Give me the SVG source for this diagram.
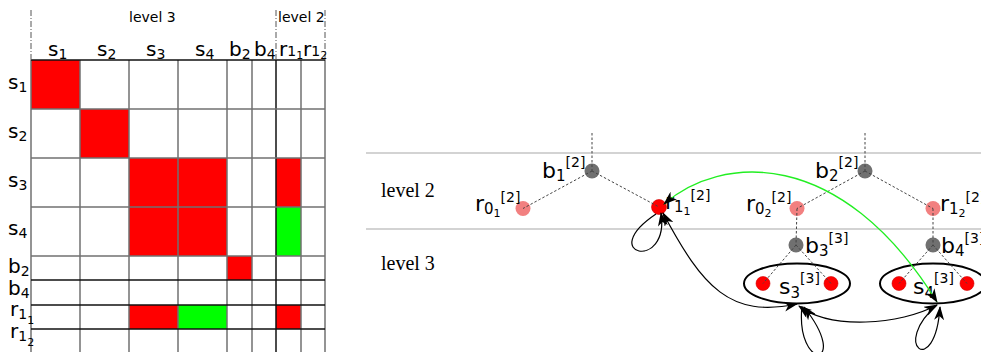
<svg xmlns="http://www.w3.org/2000/svg" width="981" height="352" viewBox="0 0 981 352">
<style>
text{font-family:"DejaVu Sans","Liberation Sans",sans-serif;fill:#000}
.ml{font-size:20px}
.ms{font-size:14px}
.mss{font-size:11px}
.hd{font-size:14px}
.gl{font-size:22px}
.gs{font-size:15px}
.gss{font-size:11px}
.gp{font-size:14px}
.lv{font-family:"Liberation Serif","DejaVu Serif",serif;font-size:20px}
.grid{stroke:#707070;stroke-width:1.5}
.gridk{stroke:#111;stroke-width:1.5}
.dd{stroke:#555;stroke-width:1;stroke-dasharray:6,2,1,2;fill:none}
.band{stroke:#c4c4c4;stroke-width:1.3}
.dash{stroke:#444;stroke-width:1;stroke-dasharray:2.5,2;fill:none}
.gray{fill:#707070}
.pink{fill:#f28080}
.red{fill:#ff0000;stroke:#d00000;stroke-width:0.6}
.ell{fill:none;stroke:#000;stroke-width:2}
.arc{fill:none;stroke:#000;stroke-width:1.2;marker-start:url(#ah);marker-end:url(#ah)}
.arc1{fill:none;stroke:#000;stroke-width:1.2;marker-end:url(#ah)}
.grn{fill:none;stroke:#22ee22;stroke-width:1.3;marker-start:url(#ah);marker-end:url(#ah)}
</style>
<defs>
<marker id="ah" markerUnits="userSpaceOnUse" markerWidth="14" markerHeight="10" viewBox="0 0 14 10" refX="13" refY="5" orient="auto-start-reverse">
<path d="M0,0 L14,5 L0,10 L4,5 z" fill="#000"/>
</marker>
</defs>
<rect width="981" height="352" fill="#fff"/>

<g id="matrix">
<g id="cells">
<rect x="31" y="60" width="49" height="49" fill="#ff0000"/>
<rect x="80" y="109" width="49" height="49" fill="#ff0000"/>
<rect x="129" y="158" width="98" height="98" fill="#ff0000"/>
<rect x="276" y="158" width="25" height="49" fill="#ff0000"/>
<rect x="276" y="207" width="25" height="49" fill="#00ff00"/>
<rect x="227" y="256" width="25" height="24" fill="#ff0000"/>
<rect x="129" y="305" width="49" height="24" fill="#ff0000"/>
<rect x="178" y="305" width="49" height="24" fill="#00ff00"/>
<rect x="276" y="305" width="25" height="24" fill="#ff0000"/>
</g>
<g id="gridlines">
<line class="grid" x1="31" y1="60" x2="31" y2="352"/>
<line class="grid" x1="80" y1="60" x2="80" y2="352"/>
<line class="grid" x1="129" y1="60" x2="129" y2="352"/>
<line class="grid" x1="178" y1="60" x2="178" y2="352"/>
<line class="grid" x1="227" y1="60" x2="227" y2="352"/>
<line class="grid" x1="252" y1="60" x2="252" y2="352"/>
<line class="gridk" x1="276" y1="60" x2="276" y2="352"/>
<line class="grid" x1="301" y1="60" x2="301" y2="352"/>
<line class="grid" x1="325" y1="60" x2="325" y2="352"/>
<line class="gridk" x1="31" y1="60" x2="325" y2="60"/>
<line class="grid" x1="31" y1="109" x2="325" y2="109"/>
<line class="grid" x1="31" y1="158" x2="325" y2="158"/>
<line class="grid" x1="31" y1="207" x2="325" y2="207"/>
<line class="grid" x1="31" y1="256" x2="325" y2="256"/>
<line class="gridk" x1="31" y1="280" x2="325" y2="280"/>
<line class="gridk" x1="31" y1="305" x2="325" y2="305"/>
<line class="gridk" x1="31" y1="329" x2="325" y2="329"/>
<line class="dd" x1="31" y1="10" x2="31" y2="60"/>
<line class="dd" x1="276" y1="10" x2="276" y2="60"/>
<line class="dd" x1="325" y1="10" x2="325" y2="60"/>
</g>
<g id="headers">
<text class="hd" x="129" y="22">level 3</text>
<text class="hd" x="278" y="22">level 2</text>
<text class="ml" x="48" y="56">s<tspan class="ms" dy="3">1</tspan></text>
<text class="ml" x="97" y="56">s<tspan class="ms" dy="3">2</tspan></text>
<text class="ml" x="146" y="56">s<tspan class="ms" dy="3">3</tspan></text>
<text class="ml" x="195" y="56">s<tspan class="ms" dy="3">4</tspan></text>
<text class="ml" x="229" y="56">b<tspan class="ms" dy="3">2</tspan></text>
<text class="ml" x="254" y="56">b<tspan class="ms" dy="3">4</tspan></text>
<text class="ml" x="279" y="56">r<tspan class="ms" dy="0">1</tspan><tspan class="mss" dy="3">1</tspan></text>
<text class="ml" x="303" y="56">r<tspan class="ms" dy="0">1</tspan><tspan class="mss" dy="3">2</tspan></text>
<text class="ml" x="8" y="89">s<tspan class="ms" dy="3">1</tspan></text>
<text class="ml" x="8" y="138">s<tspan class="ms" dy="3">2</tspan></text>
<text class="ml" x="8" y="187">s<tspan class="ms" dy="3">3</tspan></text>
<text class="ml" x="8" y="235">s<tspan class="ms" dy="3">4</tspan></text>
<text class="ml" x="8" y="273">b<tspan class="ms" dy="3">2</tspan></text>
<text class="ml" x="8" y="295">b<tspan class="ms" dy="3">4</tspan></text>
<text class="ml" x="10" y="316">r<tspan class="ms" dy="3">1</tspan><tspan class="mss" dy="5">1</tspan></text>
<text class="ml" x="10" y="338">r<tspan class="ms" dy="3">1</tspan><tspan class="mss" dy="5">2</tspan></text>
</g>
</g>

<g id="bands">
<line class="band" x1="366" y1="153" x2="981" y2="153"/>
<line class="band" x1="366" y1="229" x2="981" y2="229"/>
<text class="lv" x="381" y="197">level 2</text>
<text class="lv" x="381" y="270">level 3</text>
</g>

<g id="s3">
<ellipse class="ell" cx="797" cy="283.5" rx="53" ry="20"/>
<circle class="red" cx="763" cy="283.5" r="7"/>
<circle class="red" cx="831" cy="283.5" r="7"/>
<text class="gl" x="779" y="294">s<tspan class="gs" dy="4">3</tspan><tspan class="gp" dy="-15">[3]</tspan></text>
</g>
<g id="s4">
<ellipse class="ell" cx="933" cy="283.5" rx="53" ry="20"/>
<circle class="red" cx="899" cy="283.5" r="7"/>
<circle class="red" cx="967" cy="283.5" r="7"/>
<text class="gl" x="913" y="294">s<tspan class="gs" dy="4">4</tspan><tspan class="gp" dy="-15">[3]</tspan></text>
</g>
<g id="b1">
<circle class="gray" cx="592" cy="171" r="7.5"/>
<text class="gl" x="542" y="178">b<tspan class="gs" dy="3">1</tspan><tspan class="gp" dy="-14">[2]</tspan></text>
</g>
<g id="r01">
<circle class="pink" cx="523" cy="208.5" r="7.5"/>
<text class="gl" x="475" y="211">r<tspan class="gs" dy="3">0</tspan><tspan class="gss" dy="3">1</tspan><tspan class="gp" dy="-15">[2]</tspan></text>
</g>
<g id="r11">
<circle class="red" cx="659" cy="207" r="7.5"/>
<text class="gl" x="665" y="209">r<tspan class="gs" dy="3">1</tspan><tspan class="gss" dy="3">1</tspan><tspan class="gp" dy="-15">[2]</tspan></text>
</g>
<g id="b2">
<circle class="gray" cx="865" cy="171" r="7.5"/>
<text class="gl" x="815" y="178">b<tspan class="gs" dy="3">2</tspan><tspan class="gp" dy="-14">[2]</tspan></text>
</g>
<g id="r02">
<circle class="pink" cx="797" cy="208.5" r="7.5"/>
<text class="gl" x="746" y="211">r<tspan class="gs" dy="3">0</tspan><tspan class="gss" dy="3">2</tspan><tspan class="gp" dy="-15">[2]</tspan></text>
</g>
<g id="r12">
<circle class="pink" cx="933" cy="208.5" r="7.5"/>
<text class="gl" x="940" y="211">r<tspan class="gs" dy="3">1</tspan><tspan class="gss" dy="3">2</tspan><tspan class="gp" dy="-15">[2]</tspan></text>
</g>
<g id="b3">
<circle class="gray" cx="796" cy="245" r="7.5"/>
<text class="gl" x="805" y="253">b<tspan class="gs" dy="3">3</tspan><tspan class="gp" dy="-13">[3]</tspan></text>
</g>
<g id="b4">
<circle class="gray" cx="933" cy="245" r="7.5"/>
<text class="gl" x="941" y="253">b<tspan class="gs" dy="3">4</tspan><tspan class="gp" dy="-13">[3]</tspan></text>
</g>

<g id="connectors">
<line class="dash" x1="592" y1="133" x2="592" y2="171"/>
<line class="dash" x1="592" y1="171" x2="523" y2="208.5"/>
<line class="dash" x1="592" y1="171" x2="659" y2="207"/>
<line class="dash" x1="865" y1="133" x2="865" y2="171"/>
<line class="dash" x1="865" y1="171" x2="797" y2="208.5"/>
<line class="dash" x1="865" y1="171" x2="933" y2="208.5"/>
<line class="dash" x1="797" y1="208.5" x2="796" y2="245"/>
<line class="dash" x1="933" y1="208.5" x2="933" y2="245"/>
<line class="dash" x1="796" y1="245" x2="763" y2="283.5"/>
<line class="dash" x1="796" y1="245" x2="831" y2="283.5"/>
<line class="dash" x1="933" y1="245" x2="899" y2="283.5"/>
<line class="dash" x1="933" y1="245" x2="967" y2="283.5"/>
<path class="grn" d="M664,204 C720,155 840,145 937,302"/>
<path class="arc1" d="M656,214 C595,255 670,272 661,213"/>
<path class="arc" d="M663,213 C703,288 730,318 797,304"/>
<path class="arc" d="M799,306 C830,330 900,325 937,305"/>
<path class="arc1" d="M802,306 C795,372 852,368 804,307"/>
<path class="arc1" d="M937,305 C890,345 935,380 940,307"/>
</g>
</svg>
